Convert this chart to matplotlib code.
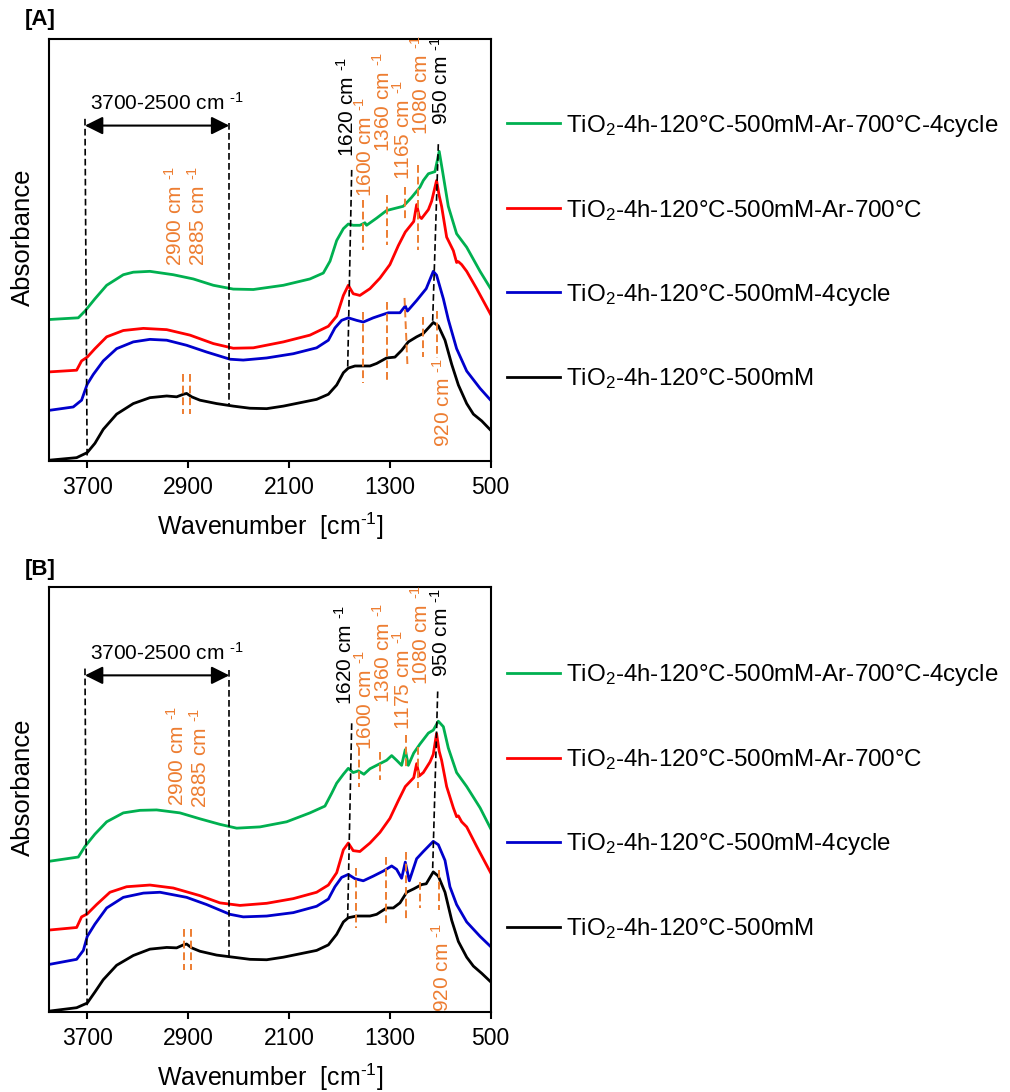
import matplotlib
matplotlib.use("Agg")
import matplotlib.pyplot as plt

plt.rcParams["font.family"] = ["Liberation Sans", "DejaVu Sans"]
plt.rcParams["mathtext.fontset"] = "custom"
plt.rcParams["mathtext.rm"] = "Liberation Sans"
plt.rcParams["mathtext.it"] = "Liberation Sans:italic"
plt.rcParams["mathtext.bf"] = "Liberation Sans:bold"

LABELS = [
    "TiO$_2$-4h-120°C-500mM-Ar-700°C-4cycle",
    "TiO$_2$-4h-120°C-500mM-Ar-700°C",
    "TiO$_2$-4h-120°C-500mM-4cycle",
    "TiO$_2$-4h-120°C-500mM",
]
COLORS = ["#00B050", "#FF0000", "#0000CC", "#000000"]
ORANGE = "#ED7D31"
XTICKS = [3700, 2900, 2100, 1300, 500]
UNIT = " cm $^{\u20101}$"   # hyphen-style superscript, as in the original

# ---- panel A spectra: (wavenumber cm-1, stacked absorbance a.u.) ----
A_GREEN = [(4000, 0.335), (3770, 0.339), (3717, 0.355), (3638, 0.384), (3545, 0.416),
           (3413, 0.441), (3334, 0.447), (3202, 0.449), (3017, 0.441), (2858, 0.431),
           (2699, 0.416), (2541, 0.407), (2382, 0.406), (2144, 0.416), (1933, 0.431),
           (1827, 0.445), (1774, 0.473), (1721, 0.522), (1668, 0.550), (1629, 0.561),
           (1590, 0.558), (1537, 0.558), (1497, 0.564), (1484, 0.558), (1404, 0.575),
           (1325, 0.593), (1246, 0.599), (1193, 0.603), (1127, 0.624), (1061, 0.648),
           (1034, 0.664), (994, 0.680), (942, 0.685), (908, 0.733), (881, 0.685),
           (836, 0.603), (770, 0.538), (690, 0.506), (584, 0.449), (500, 0.408)]
A_RED = [(4000, 0.211), (3783, 0.215), (3744, 0.237), (3699, 0.246), (3638, 0.266),
         (3545, 0.294), (3413, 0.309), (3254, 0.314), (3069, 0.311), (2884, 0.298),
         (2699, 0.278), (2541, 0.267), (2382, 0.268), (2144, 0.282), (1933, 0.298),
         (1787, 0.319), (1721, 0.343), (1668, 0.392), (1629, 0.416), (1590, 0.396),
         (1537, 0.392), (1457, 0.408), (1378, 0.433), (1299, 0.465), (1232, 0.510),
         (1177, 0.542), (1110, 0.567), (1087, 0.607), (1066, 0.579), (1048, 0.574),
         (994, 0.595), (968, 0.615), (929, 0.664), (908, 0.628), (889, 0.603),
         (849, 0.530), (796, 0.498), (770, 0.470), (756, 0.472), (730, 0.465),
         (690, 0.449), (611, 0.408), (500, 0.347)]
A_BLUE = [(4000, 0.120), (3810, 0.128), (3744, 0.144), (3699, 0.182), (3651, 0.205),
          (3572, 0.237), (3466, 0.266), (3334, 0.282), (3202, 0.288), (3069, 0.286),
          (2911, 0.274), (2752, 0.258), (2567, 0.241), (2462, 0.239), (2276, 0.244),
          (2065, 0.254), (1880, 0.268), (1787, 0.286), (1735, 0.315), (1682, 0.333),
          (1629, 0.339), (1563, 0.333), (1510, 0.329), (1431, 0.339), (1312, 0.351),
          (1219, 0.351), (1177, 0.367), (1160, 0.355), (1087, 0.380), (1011, 0.408),
          (955, 0.449), (929, 0.440), (875, 0.384), (836, 0.335), (770, 0.266),
          (690, 0.213), (584, 0.172), (500, 0.144)]
A_BLACK = [(4000, 0.002), (3783, 0.008), (3699, 0.020), (3638, 0.042), (3572, 0.075),
           (3466, 0.111), (3334, 0.136), (3202, 0.150), (3069, 0.154), (2990, 0.152),
           (2937, 0.158), (2911, 0.160), (2871, 0.152), (2805, 0.144), (2673, 0.136),
           (2541, 0.130), (2409, 0.125), (2276, 0.124), (2144, 0.130), (2012, 0.138),
           (1880, 0.146), (1787, 0.158), (1721, 0.180), (1668, 0.209), (1629, 0.220),
           (1576, 0.225), (1457, 0.225), (1404, 0.231), (1325, 0.244), (1259, 0.246),
           (1206, 0.262), (1153, 0.282), (1087, 0.294), (1034, 0.302), (994, 0.315),
           (955, 0.328), (915, 0.320), (862, 0.286), (809, 0.229), (756, 0.180),
           (690, 0.136), (637, 0.111), (571, 0.095), (500, 0.073)]

# ---- panel B spectra ----
B_GREEN = [(4000, 0.355), (3770, 0.365), (3717, 0.390), (3638, 0.419), (3545, 0.448),
           (3413, 0.469), (3281, 0.475), (3149, 0.476), (2964, 0.469), (2805, 0.455),
           (2647, 0.442), (2514, 0.433), (2329, 0.436), (2118, 0.448), (1933, 0.469),
           (1814, 0.485), (1761, 0.515), (1721, 0.539), (1668, 0.560), (1629, 0.574),
           (1590, 0.564), (1549, 0.568), (1505, 0.560), (1457, 0.573), (1378, 0.585),
           (1325, 0.593), (1285, 0.604), (1246, 0.593), (1206, 0.581), (1177, 0.618),
           (1153, 0.581), (1110, 0.610), (1061, 0.631), (994, 0.657), (955, 0.664),
           (915, 0.685), (875, 0.672), (836, 0.622), (770, 0.564), (690, 0.531),
           (584, 0.481), (500, 0.432)]
B_RED = [(4000, 0.193), (3783, 0.199), (3744, 0.224), (3699, 0.231), (3625, 0.253),
         (3519, 0.282), (3387, 0.295), (3202, 0.299), (3017, 0.292), (2805, 0.274),
         (2647, 0.257), (2488, 0.251), (2276, 0.256), (2065, 0.267), (1880, 0.282),
         (1787, 0.299), (1721, 0.328), (1668, 0.382), (1629, 0.398), (1590, 0.380),
         (1537, 0.378), (1457, 0.398), (1378, 0.423), (1299, 0.456), (1232, 0.498),
         (1177, 0.531), (1110, 0.552), (1087, 0.585), (1066, 0.556), (1034, 0.564),
         (981, 0.589), (955, 0.607), (929, 0.656), (908, 0.614), (889, 0.593),
         (849, 0.531), (796, 0.481), (770, 0.460), (756, 0.462), (730, 0.448),
         (690, 0.436), (611, 0.390), (500, 0.328)]
B_BLUE = [(4000, 0.112), (3783, 0.124), (3730, 0.145), (3699, 0.178), (3638, 0.207),
          (3545, 0.245), (3413, 0.270), (3254, 0.280), (3122, 0.282), (2911, 0.270),
          (2752, 0.253), (2567, 0.230), (2462, 0.224), (2276, 0.226), (2065, 0.234),
          (1880, 0.249), (1787, 0.266), (1735, 0.295), (1682, 0.317), (1629, 0.324),
          (1576, 0.314), (1510, 0.309), (1431, 0.320), (1351, 0.332), (1285, 0.344),
          (1246, 0.336), (1206, 0.315), (1177, 0.353), (1145, 0.309), (1087, 0.361),
          (1034, 0.378), (955, 0.402), (915, 0.394), (862, 0.357), (823, 0.295),
          (770, 0.253), (690, 0.212), (584, 0.178), (500, 0.154)]
B_BLACK = [(4000, 0.002), (3783, 0.010), (3699, 0.021), (3638, 0.047), (3572, 0.076),
           (3466, 0.110), (3334, 0.133), (3202, 0.148), (3069, 0.152), (2990, 0.151),
           (2937, 0.158), (2911, 0.160), (2871, 0.151), (2805, 0.143), (2673, 0.134),
           (2541, 0.129), (2409, 0.124), (2276, 0.123), (2144, 0.129), (2012, 0.137),
           (1880, 0.145), (1787, 0.158), (1721, 0.183), (1668, 0.212), (1629, 0.222),
           (1563, 0.226), (1457, 0.226), (1404, 0.230), (1325, 0.245), (1272, 0.245),
           (1219, 0.257), (1166, 0.282), (1110, 0.290), (1048, 0.300), (1011, 0.302),
           (955, 0.330), (915, 0.320), (862, 0.282), (809, 0.216), (756, 0.166),
           (690, 0.129), (637, 0.108), (571, 0.091), (500, 0.071)]

# ---- annotation guides: (wn_top, y_top, wn_bottom, y_bottom) ----
A_BLACK_GUIDES = [(3717, 0.81, 3700, 0.01), (2573, 0.80, 2573, 0.13),
                  (1602, 0.689, 1634, 0.217), (915, 0.75, 960, 0.331)]
A_ORANGE_GUIDES = [(2937, 0.205, 2937, 0.111), (2884, 0.205, 2884, 0.111),
                   (1510, 0.618, 1510, 0.499), (1510, 0.353, 1510, 0.185),
                   (1325, 0.630, 1325, 0.511), (1325, 0.376, 1325, 0.192),
                   (1179, 0.649, 1179, 0.570), (1183, 0.386, 1160, 0.227),
                   (1074, 0.700, 1074, 0.500), (1039, 0.341, 1039, 0.246),
                   (923, 0.354, 923, 0.244)]
B_BLACK_GUIDES = [(3717, 0.809, 3700, 0.012), (2573, 0.805, 2573, 0.133),
                  (1602, 0.680, 1634, 0.220), (920, 0.755, 960, 0.336)]
B_ORANGE_GUIDES = [(2929, 0.195, 2929, 0.100), (2879, 0.195, 2879, 0.100),
                   (1544, 0.622, 1544, 0.530), (1568, 0.339, 1568, 0.198),
                   (1378, 0.612, 1378, 0.547), (1330, 0.365, 1330, 0.200),
                   (1171, 0.652, 1171, 0.577), (1171, 0.377, 1171, 0.212),
                   (1074, 0.624, 1074, 0.528), (1060, 0.306, 1060, 0.245),
                   (907, 0.334, 907, 0.240)]

# ---- peak labels: (text, wn, y, colour, anchor) ----
A_PEAK_TEXT = [("2900", 3003, 0.461, ORANGE, "bottom"), ("2885", 2818, 0.461, ORANGE, "bottom"),
               ("1620", 1642, 0.720, "black", "bottom"), ("1600", 1497, 0.626, ORANGE, "bottom"),
               ("1360", 1351, 0.732, ORANGE, "bottom"), ("1165", 1193, 0.665, ORANGE, "bottom"),
               ("1080", 1050, 0.772, ORANGE, "bottom"), ("950", 898, 0.795, "black", "bottom"),
               ("920", 878, 0.244, ORANGE, "top")]
B_PEAK_TEXT = [("2900", 2990, 0.485, ORANGE, "bottom"), ("2885", 2805, 0.481, ORANGE, "bottom"),
               ("1620", 1655, 0.722, "black", "bottom"), ("1600", 1497, 0.618, ORANGE, "bottom"),
               ("1360", 1351, 0.728, ORANGE, "bottom"), ("1175", 1193, 0.664, ORANGE, "bottom"),
               ("1080", 1050, 0.770, ORANGE, "bottom"), ("950", 898, 0.790, "black", "bottom"),
               ("920", 888, 0.210, ORANGE, "top")]
# arrow ends, arrow height, label centre (wn), label height
A_RANGE = (3717, 2573, 0.794, 3067, 0.847)
B_RANGE = (3717, 2573, 0.793, 3067, 0.846)


def draw_panel(ax, spectra, black_guides, orange_guides, peak_text, span):
    for data, color, label in zip(spectra, COLORS, LABELS):
        wn, ab = zip(*data)
        ax.plot(wn, ab, color=color, lw=2.0, label=label)
    for x0, y0, x1, y1 in black_guides:
        ax.plot([x0, x1], [y0, y1], color="black", lw=1.2, dashes=(4, 2))
    for x0, y0, x1, y1 in orange_guides:
        ax.plot([x0, x1], [y0, y1], color=ORANGE, lw=1.4, dashes=(4, 2))
    for txt, x, y, color, va in peak_text:
        ax.text(x, y, txt + UNIT, rotation=90, ha="center", va=va,
                color=color, fontsize=15)
    x_left, x_right, y_arrow, x_lab, y_lab = span
    ax.annotate("", xy=(x_left, y_arrow), xytext=(x_right, y_arrow),
                arrowprops=dict(arrowstyle="<|-|>", color="black", lw=1.5,
                                mutation_scale=27, shrinkA=0, shrinkB=0))
    ax.text(x_lab, y_lab, "3700-2500" + UNIT, ha="center", va="center", fontsize=15)

    ax.set_xlim(4000, 500)
    ax.set_ylim(0, 1)
    ax.set_xticks(XTICKS)
    ax.set_yticks([])
    ax.tick_params(axis="x", direction="out", length=5, width=1.5, labelsize=16.5, pad=6)
    for spine in ax.spines.values():
        spine.set_linewidth(1.5)
    ax.set_xlabel("Wavenumber  [cm$^{\u20101}$]", fontsize=18, labelpad=8)
    ax.set_ylabel("Absorbance", fontsize=18.5)
    ax.yaxis.set_label_coords(-0.033, 0.53)


fig = plt.figure(figsize=(10.1, 10.92), dpi=100)
ax_a = fig.add_axes([0.0488, 0.5778, 0.437, 0.3869])
ax_b = fig.add_axes([0.0488, 0.0733, 0.437, 0.3887])

draw_panel(ax_a, [A_GREEN, A_RED, A_BLUE, A_BLACK], A_BLACK_GUIDES, A_ORANGE_GUIDES,
           A_PEAK_TEXT, A_RANGE)
draw_panel(ax_b, [B_GREEN, B_RED, B_BLUE, B_BLACK], B_BLACK_GUIDES, B_ORANGE_GUIDES,
           B_PEAK_TEXT, B_RANGE)

for ax, top in [(ax_a, 0.8968), (ax_b, 0.3935)]:
    handles, labels = ax.get_legend_handles_labels()
    ax.legend(handles[:4], labels[:4], loc="upper left", bbox_to_anchor=(0.502, top),
              bbox_transform=fig.transFigure, frameon=False, fontsize=17.4,
              handlelength=2.2, handletextpad=0.25, labelspacing=2.44,
              borderpad=0, borderaxespad=0)

fig.text(0.0248, 1 - 20 / 1092, "[A]", fontsize=16, weight="bold", va="center")
fig.text(0.0248, 1 - 569 / 1092, "[B]", fontsize=16, weight="bold", va="center")

fig.savefig("out.png", dpi=100)
